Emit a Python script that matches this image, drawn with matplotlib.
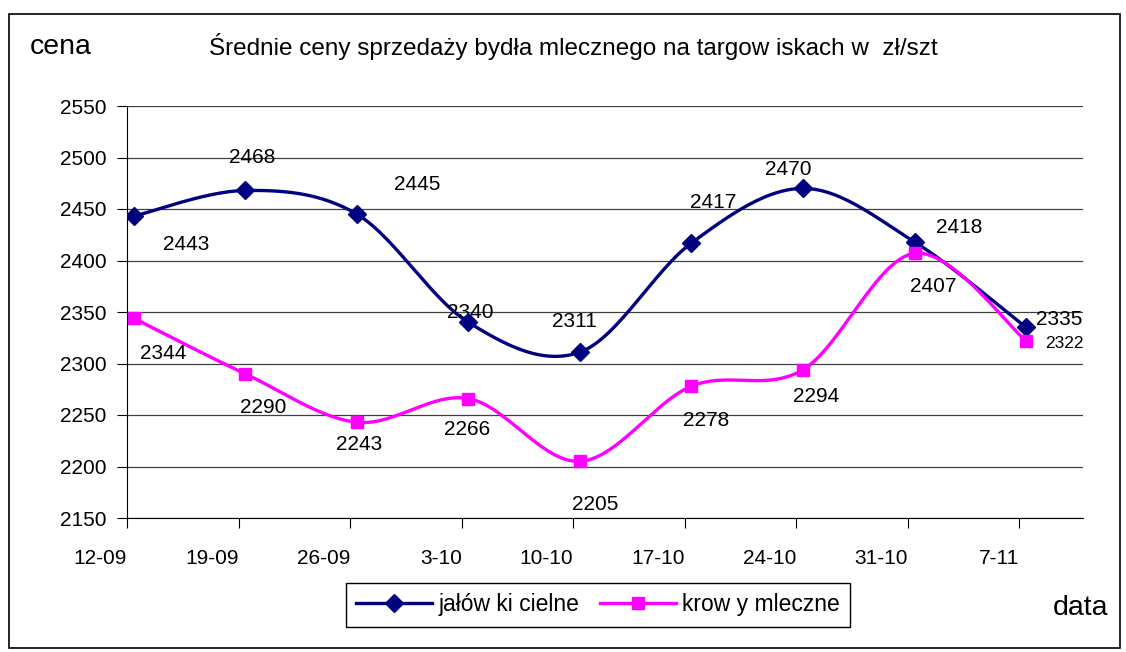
import numpy as np
import matplotlib.pyplot as plt
from matplotlib.patches import Rectangle
from matplotlib.lines import Line2D

plt.rcParams['font.family'] = ['Liberation Sans', 'DejaVu Sans']

# data
dates = ['12-09', '19-09', '26-09', '3-10', '10-10', '17-10', '24-10', '31-10', '7-11']
jalowki = [2443, 2468, 2445, 2340, 2311, 2417, 2470, 2418, 2335]
krowy = [2344, 2290, 2243, 2266, 2205, 2278, 2294, 2407, 2322]

# label offsets in pixels (dx, dy)
off_jal = [(52, -28), (7, 33), (60, 30), (2, 10), (-5, 31), (22, 40), (-15, 19), (45, 14), (33, 8)]
off_kro = [(29, -35), (18, -34), (2, -22), (-1, -31), (15, -43), (15, -34), (13, -27), (19, -33), (38, -3)]


def smooth(x, y, n=30):
    # Bezier smoothing like in spreadsheet charts
    p = np.column_stack([x, y]).astype(float)
    p = np.vstack([p[0], p, p[-1]])
    out = []
    for i in range(1, len(p) - 2):
        p0, p1, p2, p3 = p[i - 1], p[i], p[i + 1], p[i + 2]
        c1 = p1 + (p2 - p0) / 6
        c2 = p2 - (p3 - p1) / 6
        t = np.linspace(0, 1, n)[:, None]
        seg = (1 - t) ** 3 * p1 + 3 * (1 - t) ** 2 * t * c1 + 3 * (1 - t) * t ** 2 * c2 + t ** 3 * p2
        out.append(seg)
    out = np.vstack(out)
    return out[:, 0], out[:, 1]


fig = plt.figure(figsize=(11.26, 6.52), dpi=100)
fig.patches.append(Rectangle((9 / 1126, 4 / 652), 1111 / 1126, 634 / 652, transform=fig.transFigure,
                             fill=False, edgecolor='black', linewidth=1.2))

ax = fig.add_axes([127 / 1126, 1 - 518 / 652, 956 / 1126, 412 / 652])
x = np.arange(len(dates)) + 0.06

navy = '#000080'
pink = '#FF00FF'
sx, sy = smooth(x, jalowki)
ax.plot(sx, sy, color=navy, lw=2.4, zorder=3)
ax.plot(x, jalowki, ls='none', marker='D', ms=9, color=navy, zorder=4)
sx, sy = smooth(x, krowy)
ax.plot(sx, sy, color=pink, lw=2.4, zorder=3)
ax.plot(x, krowy, ls='none', marker='s', ms=8.5, color=pink, zorder=4)

for xi, v, o in zip(x, jalowki, off_jal):
    ax.annotate(str(v), (xi, v), xytext=o, textcoords='offset pixels',
                ha='center', va='center', fontsize=15)
for i, (xi, v, o) in enumerate(zip(x, krowy, off_kro)):
    ax.annotate(str(v), (xi, v), xytext=o, textcoords='offset pixels',
                ha='center', va='center', fontsize=12.5 if i == len(x) - 1 else 15)

ax.set_xlim(0, 8.57)
ax.set_ylim(2150, 2550)
ax.set_yticks(np.arange(2150, 2551, 50))
ax.yaxis.grid(True, color='#404040', lw=0.9)
ax.set_axisbelow(True)
ax.set_xticks(np.arange(len(dates)))
ax.set_xticklabels(dates, ha='right')
ax.tick_params(axis='y', length=7, pad=8, labelsize=15, direction='out')
ax.tick_params(axis='x', length=7, pad=15, labelsize=15, direction='out')
for s in ['top', 'right']:
    ax.spines[s].set_visible(False)
ax.spines['left'].set_color('black')
ax.spines['bottom'].set_color('black')

fig.text(30 / 1126, 1 - 47 / 652, 'cena', fontsize=20.5, va='center', ha='left')
fig.text(573 / 1126, 1 - 47 / 652,
         'Średnie ceny sprzedaży bydła mlecznego na targow iskach w  zł/szt',
         fontsize=17.5, va='center', ha='center')
fig.text(1080 / 1126, 1 - 608 / 652, 'data', fontsize=20.5, va='center', ha='center')

handles = [Line2D([], [], color=navy, lw=2.4, marker='D', ms=9),
           Line2D([], [], color=pink, lw=2.4, marker='s', ms=8.5)]
leg = fig.legend(handles, ['jałów ki cielne', 'krow y mleczne'], loc='center',
                 bbox_to_anchor=(598 / 1126, 1 - 605 / 652), ncol=2, fontsize=16.5,
                 fancybox=False, edgecolor='black', framealpha=1, handlelength=3.3,
                 columnspacing=0.9, handletextpad=0.3, borderpad=0.45, borderaxespad=0)
leg.get_frame().set_linewidth(1.0)

fig.savefig('out.png', dpi=100)
